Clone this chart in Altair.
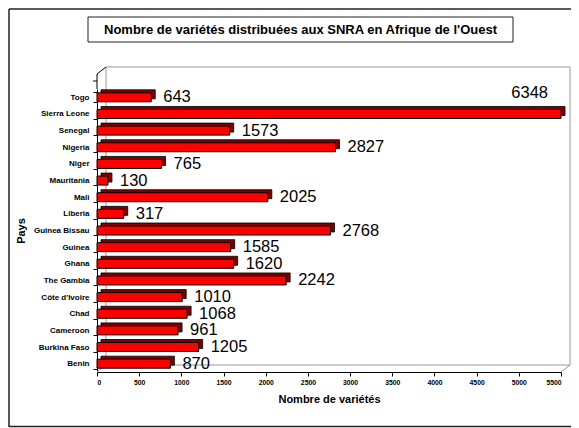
import altair as alt
import pandas as pd

countries = ["Togo", "Sierra Leone", "Senegal", "Nigeria", "Niger", "Mauritania",
             "Mali", "Liberia", "Guinea Bissau", "Guinea", "Ghana", "The Gambia",
             "Côte d'Ivoire", "Chad", "Cameroon", "Burkina Faso", "Benin"]
values = [643, 6348, 1573, 2827, 765, 130, 2025, 317, 2768, 1585, 1620, 2242,
          1010, 1068, 961, 1205, 870]
x_ticks = [0, 500, 1000, 1500, 2000, 2500, 3000, 3500, 4000, 4500, 5000, 5500]
x_max = 5500
title_text = "Nombre de variétés distribuées aux SNRA en Afrique de l'Ouest"

df = pd.DataFrame({"Pays": countries, "v": values})
one = pd.DataFrame({"a": [0]})

FONT = "Liberation Sans, Arial, sans-serif"
W, H = 464, 283

xs = alt.Scale(domain=[0, x_max], clamp=True, nice=False)
ys = alt.Scale(paddingInner=0.42, paddingOuter=0.21)

x_axis = alt.Axis(title="Nombre de variétés", values=x_ticks, format="d", grid=False,
                  domainColor="black", tickColor="black", tickSize=4,
                  labelFont=FONT, labelFontSize=6.8, labelFontWeight="bold",
                  labelColor="black", labelPadding=3,
                  titleFont=FONT, titleFontSize=11, titleFontWeight="bold",
                  titleColor="black", titlePadding=8)
y_axis = alt.Axis(title="Pays", tickBand="extent", grid=False,
                  domainColor="black", tickColor="black", tickSize=4,
                  labelFont=FONT, labelFontSize=8, labelFontWeight="bold",
                  labelColor="black", labelPadding=4,
                  titleFont=FONT, titleFontSize=11, titleFontWeight="bold",
                  titleColor="black", titlePadding=7)

X = alt.X("v:Q", scale=xs, axis=x_axis)
Y = alt.Y("Pays:N", sort=countries, scale=ys, axis=y_axis)

base = alt.Chart(df)

back = base.mark_bar(color="#800000", stroke="black", strokeWidth=0.8, size=9,
                     xOffset=4, x2Offset=4, yOffset=-3, y2Offset=-3).encode(x=X, y=Y)

front = base.mark_bar(color="#FF0000", stroke="black", strokeWidth=1, size=9).encode(x=X, y=Y)

labels = base.mark_text(align="left", baseline="middle", dx=12, fontSize=16.5,
                        font=FONT, color="black").encode(
    x=X, y=Y, text=alt.Text("v:Q", format="d"),
).transform_filter(alt.datum.v <= x_max)

labels_over = base.mark_text(align="right", baseline="middle", dx=-13, dy=-21,
                             fontSize=16.5, font=FONT, color="black").encode(
    x=X, y=Y, text=alt.Text("v:Q", format="d"),
).transform_filter(alt.datum.v > x_max)

deco = alt.Chart(one)

border_top = deco.mark_rule(color="#222222", strokeWidth=1.5).encode(
    x=alt.value(-88), x2=alt.value(474), y=alt.value(-80))
border_left = deco.mark_rule(color="#222222", strokeWidth=1.5).encode(
    x=alt.value(-88), y=alt.value(-80), y2=alt.value(338))
border_bottom = deco.mark_rule(color="#222222", strokeWidth=1.5).encode(
    x=alt.value(-88), x2=alt.value(474), y=alt.value(337.5))

title_box = deco.mark_rect(fill="white", stroke="#222222", strokeWidth=1).encode(
    x=alt.value(-9), x2=alt.value(416), y=alt.value(-72), y2=alt.value(-47))

title_lbl = deco.mark_text(fontSize=13, fontWeight="bold", font=FONT, color="black",
                           baseline="middle", align="center").encode(
    x=alt.value(203.5), y=alt.value(-59), text=alt.value(title_text))

wall = deco.mark_rect(fill=None, stroke="#999999", strokeWidth=1).encode(
    x=alt.value(9), x2=alt.value(473), y=alt.value(-22), y2=alt.value(276))

d1 = deco.mark_rule(color="#999999").encode(
    x=alt.value(0), x2=alt.value(9), y=alt.value(283), y2=alt.value(276))
d2 = deco.mark_rule(color="#999999").encode(
    x=alt.value(464), x2=alt.value(473), y=alt.value(283), y2=alt.value(276))
d3 = deco.mark_rule(color="black").encode(
    x=alt.value(0), x2=alt.value(9), y=alt.value(-15), y2=alt.value(-22))
ext = deco.mark_rule(color="black").encode(
    x=alt.value(0), y=alt.value(-15), y2=alt.value(0))
tick_top = deco.mark_rule(color="black").encode(
    x=alt.value(-4), x2=alt.value(0), y=alt.value(-8))

chart = alt.layer(
    border_top, border_left, border_bottom, title_box, title_lbl,
    wall, d1, d2, d3, ext, tick_top,
    back, front, labels, labels_over
).properties(
    width=W, height=H,
    autosize=alt.AutoSizeParams(type="none"),
    padding={"left": 89, "top": 81, "right": 10, "bottom": 56},
    background="white",
).configure_view(stroke=None)

chart.save("out.html", embed_options={"renderer": "svg", "actions": False})
